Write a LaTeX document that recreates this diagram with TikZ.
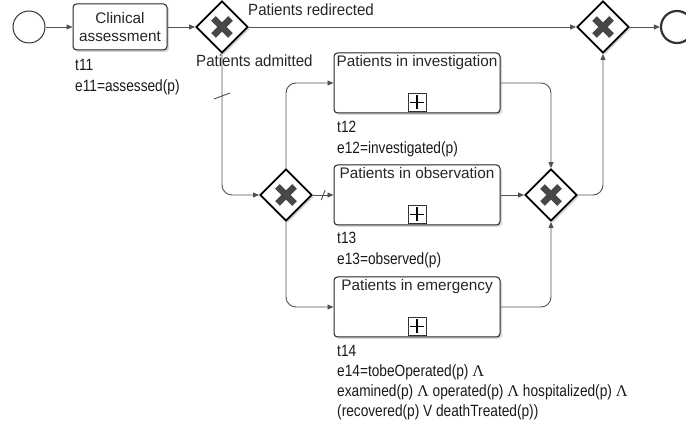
\documentclass[tikz,border=0pt]{standalone}
\usepackage{fontspec}
\setmainfont{Liberation Sans}
\newfontfamily\lamfont{Liberation Serif}
\newfontfamily\annfont[FakeStretch=0.84]{Liberation Sans}
\newfontfamily\flfont[FakeStretch=0.93]{Liberation Sans}
\usetikzlibrary{shapes.geometric,shadows,arrows.meta,calc}
\begin{document}
\begin{tikzpicture}[x=1pt,y=-1pt,
  flow/.style={draw=black!68, line width=0.9pt, -{Triangle[length=6pt,width=5pt]}, rounded corners=10pt},
  plainline/.style={draw=black!68, line width=0.9pt},
  task/.style={draw=black!85, line width=1pt, fill=white, rounded corners=3.5pt, inner sep=0pt,
    drop shadow={opacity=0.3, shadow xshift=2pt, shadow yshift=-2pt}},
  subproc/.style={task, minimum width=166pt, minimum height=60pt},
  gw/.style={diamond, draw=black, line width=1.8pt, fill=white, minimum width=52pt, minimum height=52pt, inner sep=0pt,
    drop shadow={opacity=0.3, shadow xshift=2pt, shadow yshift=-2pt},
    path picture={\draw[line width=6.5pt, black!72]
      (path picture bounding box.center) +(-8.5pt,-8.5pt) -- +(8.5pt,8.5pt)
      (path picture bounding box.center) +(-8.5pt,8.5pt) -- +(8.5pt,-8.5pt);}},
  plusmark/.style={draw=black!80, line width=1pt, fill=white, minimum size=18pt, inner sep=0pt,
    path picture={\draw[line width=1.8pt, black]
      (path picture bounding box.center) +(-7pt,0) -- +(7pt,0)
      (path picture bounding box.center) +(0,-7pt) -- +(0,7pt);}},
  boxtext/.style={font=\fontsize{15.3}{17}\selectfont, inner sep=2.5pt, text=black!85},
  flowlabel/.style={font=\flfont\fontsize{16.2}{18}\selectfont, inner sep=0pt, anchor=west, text=black!85},
  ann/.style={font=\annfont\fontsize{16.3}{18}\selectfont, inner sep=0pt, anchor=west, text height=11.5pt, text depth=3.5pt, text=black!90},
  evt/.style={circle, draw=black!80, fill=white, minimum size=32pt, inner sep=0pt}
]
\useasboundingbox (0,0) rectangle (686,430);

% events
\node[evt, line width=1pt] (start) at (29,27) {};
\node[evt, line width=2.2pt] (end) at (677,27) {};

% tasks
\node[task, minimum width=94pt, minimum height=46pt, align=center, font=\fontsize{15.3}{18}\selectfont, text=black!85] (clin) at (120,27) {Clinical\\assessment};

\node[subproc] (inv) at (417,83) {};
\node[subproc] (obs) at (417,195) {};
\node[subproc] (emg) at (417,307) {};
\node[boxtext, anchor=north] (invt) at (inv.north) {Patients in investigation};
\node[boxtext, anchor=north] (obst) at (obs.north) {Patients in observation};
\node[boxtext, anchor=north] (emgt) at (emg.north) {Patients in emergency};
\node[plusmark] (invp) at ($(inv.south)+(0,-11)$) {};
\node[plusmark] (obsp) at ($(obs.south)+(0,-11)$) {};
\node[plusmark] (emgp) at ($(emg.south)+(0,-11)$) {};

% gateways
\node[gw] (g1) at (222,27) {};
\node[gw] (g2) at (286,195) {};
\node[gw] (g3) at (551,195) {};
\node[gw] (g4) at (603,27) {};

% flows
\draw[flow] (start) -- (clin);
\draw[flow] (clin) -- (g1);
\draw[flow] (g1.east) -- (g4.west);
\draw[flow] (g4.east) -- (end);
\draw[flow] (g1.south) |- (g2.west);
\draw[flow] (g2.north) |- (inv.west);
\draw[flow] (g2.east) -- (obs.west);
\draw[flow] (g2.south) |- (emg.west);
\draw[flow] (inv.east) -| (g3.north);
\draw[flow] (obs.east) -- (g3.west);
\draw[flow] (emg.east) -| (g3.south);
\draw[flow] (g3.east) -| (g4.south);

% default-flow ticks
\coordinate (tk1) at (222,96);
\draw[plainline] (tk1) +(-8,3) -- +(8,-3);
\coordinate (tk2) at ($(g2.east)!0.5!(obs.west)$);
\draw[plainline] (tk2) +(-2,5) -- +(2,-5);

% flow labels
\node[flowlabel] (lred) at (248,10) {Patients redirected};
\node[flowlabel] (ladm) at (196,61) {Patients admitted};

% annotations
\node[ann] (a11) at (75,67) {t11};
\node[ann] (b11) at (75,88) {e11=assessed(p)};
\node[ann] (a12) at (337,129) {t12};
\node[ann] (b12) at (337,150) {e12=investigated(p)};
\node[ann] (a13) at (337,240) {t13};
\node[ann] (b13) at (337,261) {e13=observed(p)};
\node[ann] (a14) at (337,353) {t14};
\node[ann] (b14) at (337,373) {e14=tobeOperated(p) {\lamfont Λ}};
\node[ann] (c14) at (337,393) {examined(p) {\lamfont Λ} operated(p) {\lamfont Λ} hospitalized(p) {\lamfont Λ}};
\node[ann] (d14) at (337,413) {(recovered(p) V deathTreated(p))};
\end{tikzpicture}
\end{document}
